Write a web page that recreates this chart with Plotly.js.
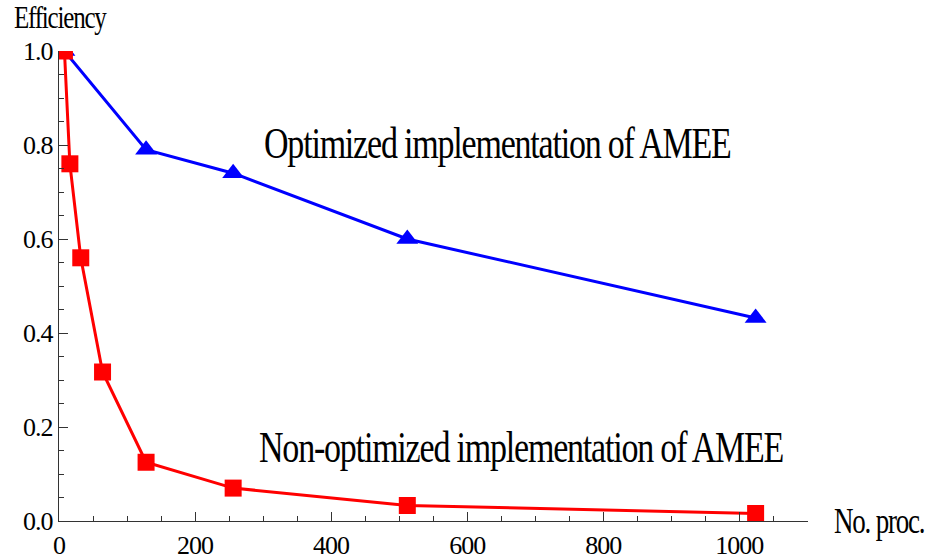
<!DOCTYPE html>
<html>
<head>
<meta charset="utf-8">
<script src="https://cdn.plot.ly/plotly-3.0.1.min.js"></script>
<style>
html,body{margin:0;padding:0;background:#fff;}
#chart{width:926px;height:557px;}
.annotation-text{letter-spacing:-1.2px; transform-box: fill-box; transform-origin: center; transform: scaleY(1.3);}
.xtick text, .ytick text{letter-spacing:-1px;}
</style>
</head>
<body>
<div id="chart"></div>
<script>
// Data
const procOptimized = [8, 128, 256, 512, 1024];
const effOptimized = [1.0, 0.79, 0.74, 0.60, 0.432];
const procNonOptimized = [8, 16, 32, 64, 128, 256, 512, 1024];
const effNonOptimized = [1.0, 0.76, 0.56, 0.317, 0.125, 0.07, 0.033, 0.016];
const xTickVals = [0, 200, 400, 600, 800, 1000];
const yTickVals = [0.0, 0.2, 0.4, 0.6, 0.8, 1.0];
const labelOptimized = 'Optimized implementation of AMEE';
const labelNonOptimized = 'Non-optimized implementation of AMEE';

const serif = "'Liberation Serif', 'Times New Roman', serif";

const traces = [
  {
    x: procOptimized, y: effOptimized, type: 'scatter', mode: 'lines+markers',
    line: {color: '#0000ff', width: 3},
    marker: {symbol: 'triangle-up', size: 19, color: '#0000ff'},
    cliponaxis: true, showlegend: false
  },
  {
    x: procNonOptimized, y: effNonOptimized, type: 'scatter', mode: 'lines+markers',
    line: {color: '#ff0000', width: 3},
    marker: {symbol: 'square', size: 17, color: '#ff0000'},
    cliponaxis: true, showlegend: false
  }
];

const axisColor = '#333333';
const layout = {
  width: 926, height: 557,
  margin: {l: 59, r: 118, t: 51, b: 36, pad: 0},
  paper_bgcolor: '#ffffff', plot_bgcolor: '#ffffff',
  font: {family: serif, color: '#000000', size: 26},
  xaxis: {
    range: [0, 1101], showgrid: false, zeroline: false,
    showline: true, linecolor: axisColor, linewidth: 1.3,
    ticks: 'inside', ticklen: 9, tickwidth: 1, tickcolor: axisColor,
    tickvals: xTickVals, ticktext: xTickVals.map(String),
    tickfont: {family: serif, size: 26, color: '#000'},
    minor: {dtick: 50, tick0: 0, ticks: 'inside', ticklen: 5, tickcolor: axisColor, showgrid: false},
    fixedrange: true
  },
  yaxis: {
    range: [0, 1.0], showgrid: false, zeroline: false,
    showline: true, linecolor: axisColor, linewidth: 1.3,
    ticks: 'inside', ticklen: 9, tickwidth: 1, tickcolor: axisColor,
    tickvals: yTickVals, ticktext: yTickVals.map(v => v.toFixed(1)),
    tickfont: {family: serif, size: 26, color: '#000'},
    minor: {dtick: 0.05, tick0: 0, ticks: 'inside', ticklen: 5, tickcolor: axisColor, showgrid: false},
    fixedrange: true
  },
  annotations: [
    {text: 'Efficiency', xref: 'paper', yref: 'paper', x: -0.063, y: 1.072,
     xanchor: 'left', yanchor: 'middle', showarrow: false,
     font: {family: serif, size: 25, color: '#000'}},
    {text: 'No. proc.', xref: 'paper', yref: 'paper', x: 1.032, y: 0.0,
     xanchor: 'left', yanchor: 'middle', showarrow: false,
     font: {family: serif, size: 27, color: '#000'}},
    {text: labelOptimized, xref: 'paper', yref: 'paper', x: 0.271, y: 0.804,
     xanchor: 'left', yanchor: 'middle', showarrow: false,
     font: {family: serif, size: 34, color: '#000'}},
    {text: labelNonOptimized, xref: 'paper', yref: 'paper', x: 0.264, y: 0.157,
     xanchor: 'left', yanchor: 'middle', showarrow: false,
     font: {family: serif, size: 34, color: '#000'}}
  ]
};

Plotly.newPlot('chart', traces, layout, {displayModeBar: false, staticPlot: true});
</script>
</body>
</html>
